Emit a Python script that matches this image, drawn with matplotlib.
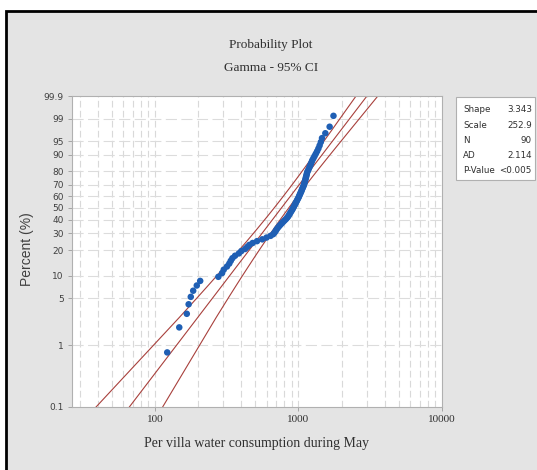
import math
from functools import lru_cache

import numpy as np
import matplotlib
matplotlib.use("Agg")
from matplotlib import pyplot as plt
from matplotlib.patches import Rectangle


# fitted gamma parameters (from the stats box)
shape = 3.343
scale = 252.9
n_obs = 90
ad_stat = 2.114
p_value_txt = "<0.005"

# per villa water consumption, sorted
consumption = [
    122, 148, 167, 172, 178, 185, 196, 207, 277, 294,
    302, 318, 330, 338, 347, 362, 385, 400, 425, 440,
    455, 480, 515, 560, 600, 640, 668, 682, 695, 705,
    718, 733, 748, 765, 782, 800, 818, 835, 848, 860,
    870, 882, 893, 905, 915, 925, 935, 945, 955, 965,
    975, 985, 996, 1006, 1015, 1024, 1033, 1043, 1052, 1060,
    1070, 1080, 1090, 1097, 1104, 1110, 1117, 1124, 1130, 1137,
    1144, 1150, 1163, 1177, 1190, 1205, 1220, 1235, 1250, 1272,
    1296, 1322, 1350, 1378, 1405, 1432, 1460, 1540, 1650, 1755,
]

pct_ticks = [0.1, 1, 5, 10, 20, 30, 40, 50, 60, 70, 80, 90, 95, 99, 99.9]
pct_labels = ["0.1", "1", "5", "10", "20", "30", "40", "50", "60", "70",
              "80", "90", "95", "99", "99.9"]
x_ticks = [100, 1000, 10000]
x_labels = ["100", "1000", "10000"]


def gammainc_lower(a, x):
    # regularized lower incomplete gamma P(a, x)
    if x <= 0:
        return 0.0
    lnpre = -x + a * math.log(x) - math.lgamma(a)
    if x < a + 1:
        term = 1.0 / a
        s = term
        ap = a
        for _ in range(500):
            ap += 1
            term *= x / ap
            s += term
            if abs(term) < abs(s) * 1e-15:
                break
        return s * math.exp(lnpre)
    b = x + 1 - a
    c = 1e300
    d = 1.0 / b
    h = d
    for i in range(1, 500):
        an = -i * (i - a)
        b += 2
        d = an * d + b
        if abs(d) < 1e-300:
            d = 1e-300
        c = b + an / c
        if abs(c) < 1e-300:
            c = 1e-300
        d = 1.0 / d
        de = d * c
        h *= de
        if abs(de - 1) < 1e-15:
            break
    return 1.0 - math.exp(lnpre) * h


@lru_cache(maxsize=None)
def gamma_ppf(p, a):
    lo, hi = math.log(1e-8), math.log(1e4)
    for _ in range(70):
        mid = 0.5 * (lo + hi)
        if gammainc_lower(a, math.exp(mid)) < p:
            lo = mid
        else:
            hi = mid
    return math.exp(0.5 * (lo + hi))


def _fwd(p):
    if not np.isfinite(p):
        return np.nan
    p = min(max(p / 100.0, 1e-5), 1 - 1e-6)
    return math.log10(gamma_ppf(round(p, 12), shape))


def _inv(y):
    if not np.isfinite(y):
        return np.nan
    return 100.0 * gammainc_lower(shape, 10.0 ** y)


fwd = np.vectorize(_fwd, otypes=[float])
inv = np.vectorize(_inv, otypes=[float])

# median ranks
ranks = np.arange(1, n_obs + 1)
plot_pct = (ranks - 0.3) / (n_obs + 0.4) * 100

# fitted line + 95% CI (delta method on ln of the percentile)
h = 1e-3
trigamma = (math.lgamma(shape + h) - 2 * math.lgamma(shape) + math.lgamma(shape - h)) / h ** 2
det = shape * trigamma - 1
var_a = shape / (n_obs * det)
var_lb = trigamma / (n_obs * det)
cov_alb = -1.0 / (n_obs * det)

line_pct = np.concatenate([[0.03, 0.06], np.linspace(0.1, 99.9, 40), [99.95, 99.97]])
fit_x, lo_x, hi_x = [], [], []
for p in line_pct:
    q = gamma_ppf(round(p / 100, 12), shape)
    dq = (math.log(gamma_ppf(round(p / 100, 12), shape + 1e-3))
          - math.log(gamma_ppf(round(p / 100, 12), shape - 1e-3))) / 2e-3
    var = var_lb + dq ** 2 * var_a + 2 * dq * cov_alb
    se = math.sqrt(max(var, 0))
    xp = scale * q
    fit_x.append(xp)
    lo_x.append(xp * math.exp(-1.96 * se))
    hi_x.append(xp * math.exp(1.96 * se))

fig = plt.figure(figsize=(5.37, 4.70), dpi=100)
fig.patch.set_facecolor("white")
fig.patches.append(Rectangle((6 / 537, -0.05), 1.2, 1.05 - 11 / 470,
                             transform=fig.transFigure, facecolor="#e4e4e4",
                             edgecolor="black", linewidth=2, zorder=-10))

ax = fig.add_axes([72 / 537, 1 - 407 / 470, 370 / 537, 311 / 470])
ax.set_facecolor("white")
ax.set_xscale("log")
ax.set_yscale("function", functions=(fwd, inv))
ax.set_xlim(26.5, 10000)
ax.set_ylim(0.1, 99.9)

for v in [20, 30, 40, 50, 60, 70, 80, 90, 200, 300, 400, 500, 600, 700, 800, 900,
          2000, 3000, 4000, 5000, 6000, 7000, 8000, 9000, 100, 1000]:
    ax.axvline(v, color="#d9d9d9", lw=0.8, ls=(0, (6, 3)), zorder=0)
for v in pct_ticks[1:-1]:
    ax.axhline(v, color="#dcdcdc", lw=0.8, ls=(0, (10, 4)), zorder=0)

ax.plot(fit_x, line_pct, color="#a8403c", lw=0.8)
ax.plot(lo_x, line_pct, color="#a8403c", lw=0.8)
ax.plot(hi_x, line_pct, color="#a8403c", lw=0.8)
ax.scatter(consumption, plot_pct, s=22, color="#1f5fb4", edgecolors="none", zorder=3)

ax.set_yticks(pct_ticks)
ax.set_yticklabels(pct_labels, family=["Liberation Sans Narrow", "DejaVu Sans"],
                   fontsize=6.5, color="#404040")
ax.yaxis.set_minor_locator(matplotlib.ticker.NullLocator())
ax.set_xticks(x_ticks)
ax.set_xticklabels(x_labels, family="Liberation Serif", fontsize=8, color="#303030")
ax.xaxis.set_minor_locator(matplotlib.ticker.NullLocator())
ax.tick_params(length=3, width=0.6, color="#9a9a9a", pad=3)
for s in ax.spines.values():
    s.set_color("#b0b0b0")
    s.set_linewidth(0.8)

fig.text(271 / 537, 1 - 45 / 470, "Probability Plot", ha="center", va="center",
         family="Liberation Serif", fontsize=9.5, color="#303030")
fig.text(271 / 537, 1 - 68 / 470, "Gamma - 95% CI", ha="center", va="center",
         family="Liberation Serif", fontsize=9.5, color="#303030")
fig.text(257 / 537, 1 - 443 / 470, "Per villa water consumption during May",
         ha="center", va="center", family="Liberation Serif", fontsize=10, color="#303030")
fig.text(27 / 537, 1 - 249 / 470, "Percent (%)", rotation=90, ha="center", va="center",
         family="Liberation Sans", fontsize=10, color="#404040")

# stats box
fig.patches.append(Rectangle((456 / 537, 1 - 180 / 470), 79 / 537, 83 / 470,
                             transform=fig.transFigure, facecolor="white",
                             edgecolor="#b0b0b0", linewidth=0.8))
box_names = ["Shape", "Scale", "N", "AD", "P-Value"]
box_vals = [f"{shape:.3f}", f"{scale:.1f}", str(n_obs), f"{ad_stat:.3f}", p_value_txt]
for k, (nm, vl) in enumerate(zip(box_names, box_vals)):
    yy = 1 - (110 + k * 15.2) / 470
    fig.text(463 / 537, yy, nm, ha="left", va="center",
             family=["Liberation Sans Narrow", "DejaVu Sans"], fontsize=6.3, color="#303030")
    fig.text(532 / 537, yy, vl, ha="right", va="center",
             family=["Liberation Sans Narrow", "DejaVu Sans"], fontsize=6.3, color="#303030")

fig.savefig("out.png", dpi=100)
